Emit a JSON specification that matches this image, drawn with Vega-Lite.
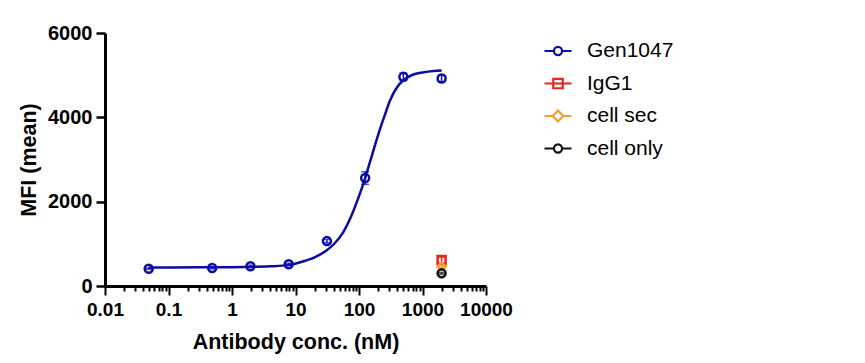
{
  "$schema": "https://vega.github.io/schema/vega-lite/v6.json",
  "width": 381,
  "height": 253,
  "autosize": {"type": "none"},
  "padding": {"left": 105, "top": 33, "right": 379, "bottom": 77},
  "background": "white",
  "config": {
    "view": {"stroke": null},
    "font": "Liberation Sans",
    "legend": {"labelFont": "Liberation Sans", "labelFontSize": 21, "labelColor": "black", "labelLimit": 400}
  },
  "datasets": {
    "curve": [
      {"conc": 0.0488, "mfi": 440}, {"conc": 0.1, "mfi": 441}, {"conc": 0.3, "mfi": 443},
      {"conc": 1, "mfi": 447}, {"conc": 2, "mfi": 453}, {"conc": 4, "mfi": 466},
      {"conc": 7.8, "mfi": 495}, {"conc": 13, "mfi": 580}, {"conc": 20, "mfi": 680},
      {"conc": 30, "mfi": 830}, {"conc": 40, "mfi": 990}, {"conc": 55, "mfi": 1250},
      {"conc": 75, "mfi": 1650}, {"conc": 100, "mfi": 2130}, {"conc": 125, "mfi": 2560},
      {"conc": 160, "mfi": 3100}, {"conc": 214, "mfi": 3720}, {"conc": 260, "mfi": 4090},
      {"conc": 308, "mfi": 4400}, {"conc": 400, "mfi": 4720}, {"conc": 500, "mfi": 4880},
      {"conc": 700, "mfi": 5010}, {"conc": 1000, "mfi": 5065}, {"conc": 1500, "mfi": 5100},
      {"conc": 2000, "mfi": 5110}
    ],
    "points": [
      {"series": "Gen1047", "conc": 0.0488, "mfi": 410, "err": 15},
      {"series": "Gen1047", "conc": 0.488, "mfi": 425, "err": 20},
      {"series": "Gen1047", "conc": 1.95, "mfi": 470, "err": 25},
      {"series": "Gen1047", "conc": 7.81, "mfi": 515, "err": 25},
      {"series": "Gen1047", "conc": 31.25, "mfi": 1065, "err": 40},
      {"series": "Gen1047", "conc": 125, "mfi": 2560, "err": 150},
      {"series": "Gen1047", "conc": 500, "mfi": 4960, "err": 90},
      {"series": "Gen1047", "conc": 2000, "mfi": 4920, "err": 80},
      {"series": "IgG1", "conc": 2000, "mfi": 615, "err": 70},
      {"series": "cell sec", "conc": 2000, "mfi": 460, "err": 20},
      {"series": "cell only", "conc": 2000, "mfi": 300, "err": 20}
    ]
  },
  "encoding": {
    "x": {
      "field": "conc", "type": "quantitative",
      "scale": {"type": "log", "domain": [0.01, 10000], "nice": false},
      "axis": {
        "title": "Antibody conc. (nM)",
        "values": [0.01,0.02,0.03,0.04,0.05,0.06,0.07,0.08,0.09,0.1,0.2,0.3,0.4,0.5,0.6,0.7,0.8,0.9,1,2,3,4,5,6,7,8,9,10,20,30,40,50,60,70,80,90,100,200,300,400,500,600,700,800,900,1000,2000,3000,4000,5000,6000,7000,8000,9000,10000],
        "labelExpr": "indexof([0.01,0.1,1,10,100,1000,10000], datum.value) >= 0 ? format(datum.value, '~g') : ''",
        "tickSize": {"condition": {"test": "indexof([0.01,0.1,1,10,100,1000,10000], datum.value) >= 0", "value": 9}, "value": 5},
        "domainColor": "black", "domainWidth": 3,
        "tickColor": "black", "tickWidth": 2,
        "labelFontSize": 19, "labelFontWeight": "bold", "labelColor": "black",
        "labelPadding": 5, "labelFlush": false, "labelOverlap": false,
        "titleFontSize": 21.5, "titleFontWeight": "bold", "titleColor": "black", "titlePadding": 12,
        "grid": false
      }
    },
    "y": {
      "field": "mfi", "type": "quantitative",
      "scale": {"domain": [0, 6000], "nice": false, "zero": false},
      "axis": {
        "title": "MFI (mean)",
        "values": [0, 2000, 4000, 6000],
        "format": "d",
        "domainColor": "black", "domainWidth": 3,
        "tickColor": "black", "tickWidth": 2.5, "tickSize": 9,
        "labelFontSize": 20, "labelFontWeight": "bold", "labelColor": "black", "labelPadding": 4,
        "titleFontSize": 21.5, "titleFontWeight": "bold", "titleColor": "black", "titlePadding": 7,
        "grid": false
      }
    }
  },
  "layer": [
    {
      "data": {"name": "curve"},
      "mark": {"type": "line", "color": "#0C0CA0", "strokeWidth": 2.5, "interpolate": "monotone"}
    },
    {
      "data": {"name": "points"},
      "mark": {"type": "errorbar", "ticks": {"size": 8}, "thickness": 1.5},
      "encoding": {
        "yError": {"field": "err"},
        "color": {"field": "series", "type": "nominal",
          "scale": {"domain": ["Gen1047", "IgG1", "cell sec", "cell only"], "range": ["#0C0CA0", "#E8241C", "#F0A030", "#111111"]},
          "legend": null}
      }
    },
    {
      "data": {"name": "points"},
      "mark": {"type": "point", "filled": false, "strokeWidth": 2.5, "size": 64, "opacity": 1},
      "encoding": {
        "color": {"field": "series", "type": "nominal",
          "scale": {"domain": ["Gen1047", "IgG1", "cell sec", "cell only"], "range": ["#0C0CA0", "#E8241C", "#F0A030", "#111111"]},
          "legend": null},
        "shape": {"field": "series", "type": "nominal",
          "scale": {"domain": ["Gen1047", "IgG1", "cell sec", "cell only"], "range": ["circle", "square", "diamond", "circle"]},
          "legend": null}
      }
    },
    {
      "data": {"name": "points"},
      "transform": [{"filter": "false"}],
      "mark": {"type": "point", "filled": false, "strokeWidth": 2.2, "opacity": 1},
      "encoding": {
        "color": {"field": "series", "type": "nominal",
          "scale": {"domain": ["Gen1047", "IgG1", "cell sec", "cell only"], "range": ["#0C0CA0", "#E8241C", "#F0A030", "#111111"]},
          "legend": {"orient": "none", "legendX": 438, "legendY": 3, "title": null, "labelFont": "Liberation Sans", "labelFontSize": 21, "labelColor": "black", "symbolSize": 729, "symbolStrokeWidth": 2.2, "rowPadding": 7.5, "labelOffset": 14, "padding": 0}},
        "shape": {"field": "series", "type": "nominal",
          "scale": {"domain": ["Gen1047", "IgG1", "cell sec", "cell only"], "range": [
            "M-1,0H-0.3M0.3,0H1M-0.3,0A0.3,0.3 0 1,0 0.3,0A0.3,0.3 0 1,0 -0.3,0",
            "M-1,0H1M-0.35,-0.35H0.35V0.35H-0.35Z",
            "M-1,0H-0.4M0.4,0H1M0,-0.4L0.4,0L0,0.4L-0.4,0Z",
            "M-1,0H-0.3M0.3,0H1M-0.3,0A0.3,0.3 0 1,0 0.3,0A0.3,0.3 0 1,0 -0.3,0"
          ]},
          "legend": {"orient": "none", "legendX": 438, "legendY": 3, "title": null, "labelFont": "Liberation Sans", "labelFontSize": 21, "labelColor": "black", "symbolSize": 729, "symbolStrokeWidth": 2.2, "rowPadding": 7.5, "labelOffset": 14, "padding": 0}}
      }
    }
  ],
  "resolve": {"scale": {"color": "independent", "shape": "independent"}}
}
